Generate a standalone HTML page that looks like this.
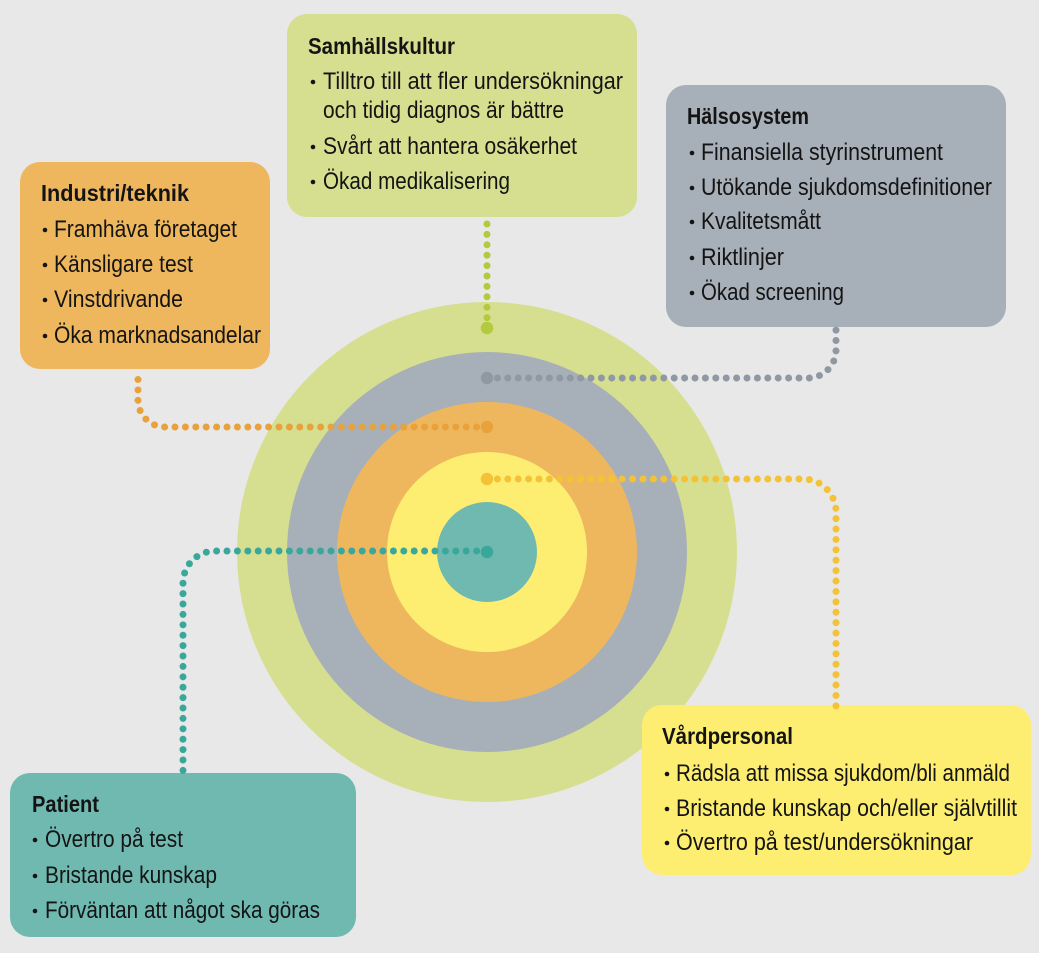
<!DOCTYPE html>
<html>
<head>
<meta charset="utf-8">
<style>
  html,body{margin:0;padding:0;background:#e8e8e8;}
  svg{display:block;}
  text{font-family:"Liberation Sans",sans-serif;font-size:24px;fill:#141414;}
  .t{font-weight:bold;font-size:23.5px;}
</style>
</head>
<body>
<svg width="1039" height="953" viewBox="0 0 1039 953" xmlns="http://www.w3.org/2000/svg">
  <rect width="1039" height="953" fill="#e8e8e8"/>

  <!-- concentric circles -->
  <circle cx="487" cy="552" r="250" fill="#d5df8f"/>
  <circle cx="487" cy="552" r="200" fill="#a7afb8"/>
  <circle cx="487" cy="552" r="150" fill="#efb75d"/>
  <circle cx="487" cy="552" r="100" fill="#fdee72"/>
  <circle cx="487" cy="552" r="50" fill="#70b9b1"/>

  <!-- boxes -->
  <rect x="287" y="14" width="350" height="203" rx="20" fill="#d5df8f"/>
  <rect x="20" y="162" width="250" height="207" rx="20" fill="#efb75d"/>
  <rect x="666" y="85" width="340" height="242" rx="20" fill="#a7afb8"/>
  <rect x="642" y="705" width="389" height="170" rx="20" fill="#fdee72"/>
  <rect x="10" y="773" width="346" height="164" rx="20" fill="#70b9b1"/>

  <!-- connectors -->
  <g fill="none" stroke-linecap="round" stroke-width="7" stroke-dasharray="0 10.4">
    <path d="M487 328 L487 216" stroke="#b3ca3e"/>
    <path d="M487 378 L808 378 A28 28 0 0 0 836 350 L836 328" stroke="#8f98a3"/>
    <path d="M487 427 L165 427 A27 27 0 0 1 138 400 L138 377" stroke="#e9a23b"/>
    <path d="M487 479 L803 479 A33 33 0 0 1 836 512 L836 706" stroke="#f3c237"/>
    <path d="M487 551 L215 551 A32 32 0 0 0 183 583 L183 773" stroke="#3aa79b"/>
  </g>
  <circle cx="487" cy="328" r="6.2" fill="#b3ca3e"/>
  <circle cx="487" cy="378" r="6.2" fill="#8f98a3"/>
  <circle cx="487" cy="427" r="6.2" fill="#e9a23b"/>
  <circle cx="487" cy="479" r="6.2" fill="#f3c237"/>
  <circle cx="487" cy="552" r="6.2" fill="#3aa79b"/>

  <!-- Samhällskultur -->
  <text class="t" x="308" y="54" textLength="147" lengthAdjust="spacingAndGlyphs">Samhällskultur</text>
  <g fill="#141414">
    <circle cx="313" cy="82" r="2.3"/>
    <circle cx="313" cy="147" r="2.3"/>
    <circle cx="313" cy="182" r="2.3"/>
  </g>
  <text x="323" y="89" textLength="300" lengthAdjust="spacingAndGlyphs">Tilltro till att fler undersökningar</text>
  <text x="323" y="118" textLength="241" lengthAdjust="spacingAndGlyphs">och tidig diagnos är bättre</text>
  <text x="323" y="154" textLength="254" lengthAdjust="spacingAndGlyphs">Svårt att hantera osäkerhet</text>
  <text x="323" y="189" textLength="187" lengthAdjust="spacingAndGlyphs">Ökad medikalisering</text>

  <!-- Industri/teknik -->
  <text class="t" x="41" y="201" textLength="148" lengthAdjust="spacingAndGlyphs">Industri/teknik</text>
  <g fill="#141414">
    <circle cx="45" cy="230" r="2.3"/>
    <circle cx="45" cy="265" r="2.3"/>
    <circle cx="45" cy="300" r="2.3"/>
    <circle cx="45" cy="336" r="2.3"/>
  </g>
  <text x="54" y="237" textLength="183" lengthAdjust="spacingAndGlyphs">Framhäva företaget</text>
  <text x="54" y="272" textLength="139" lengthAdjust="spacingAndGlyphs">Känsligare test</text>
  <text x="54" y="307" textLength="129" lengthAdjust="spacingAndGlyphs">Vinstdrivande</text>
  <text x="54" y="343" textLength="207" lengthAdjust="spacingAndGlyphs">Öka marknadsandelar</text>

  <!-- Hälsosystem -->
  <text class="t" x="687" y="124" textLength="122" lengthAdjust="spacingAndGlyphs">Hälsosystem</text>
  <g fill="#141414">
    <circle cx="692" cy="153" r="2.3"/>
    <circle cx="692" cy="188" r="2.3"/>
    <circle cx="692" cy="222" r="2.3"/>
    <circle cx="692" cy="258" r="2.3"/>
    <circle cx="692" cy="293" r="2.3"/>
  </g>
  <text x="701" y="160" textLength="242" lengthAdjust="spacingAndGlyphs">Finansiella styrinstrument</text>
  <text x="701" y="195" textLength="291" lengthAdjust="spacingAndGlyphs">Utökande sjukdomsdefinitioner</text>
  <text x="701" y="229" textLength="120" lengthAdjust="spacingAndGlyphs">Kvalitetsmått</text>
  <text x="701" y="265" textLength="83" lengthAdjust="spacingAndGlyphs">Riktlinjer</text>
  <text x="701" y="300" textLength="143" lengthAdjust="spacingAndGlyphs">Ökad screening</text>

  <!-- Vårdpersonal -->
  <text class="t" x="662" y="744" textLength="131" lengthAdjust="spacingAndGlyphs">Vårdpersonal</text>
  <g fill="#141414">
    <circle cx="667" cy="774" r="2.3"/>
    <circle cx="667" cy="809" r="2.3"/>
    <circle cx="667" cy="843" r="2.3"/>
  </g>
  <text x="676" y="781" textLength="334" lengthAdjust="spacingAndGlyphs">Rädsla att missa sjukdom/bli anmäld</text>
  <text x="676" y="816" textLength="341" lengthAdjust="spacingAndGlyphs">Bristande kunskap och/eller självtillit</text>
  <text x="676" y="850" textLength="297" lengthAdjust="spacingAndGlyphs">Övertro på test/undersökningar</text>

  <!-- Patient -->
  <text class="t" x="32" y="812" textLength="67" lengthAdjust="spacingAndGlyphs">Patient</text>
  <g fill="#141414">
    <circle cx="35" cy="840" r="2.3"/>
    <circle cx="35" cy="876" r="2.3"/>
    <circle cx="35" cy="911" r="2.3"/>
  </g>
  <text x="45" y="847" textLength="138" lengthAdjust="spacingAndGlyphs">Övertro på test</text>
  <text x="45" y="883" textLength="172" lengthAdjust="spacingAndGlyphs">Bristande kunskap</text>
  <text x="45" y="918" textLength="275" lengthAdjust="spacingAndGlyphs">Förväntan att något ska göras</text>
</svg>
</body>
</html>
